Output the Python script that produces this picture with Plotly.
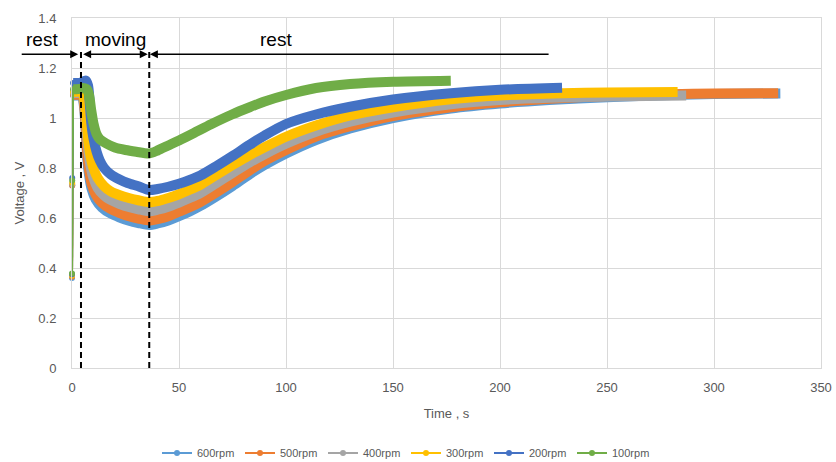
import plotly.graph_objects as go

# ---------------- data ----------------
names = ["600rpm", "500rpm", "400rpm", "300rpm", "200rpm", "100rpm"]
colors = ["#5B9BD5", "#ED7D31", "#A5A5A5", "#FFC000", "#4472C4", "#70AD47"]

t_600 = [0, 0.1, 0.5, 2, 4.5, 5.0, 5.8, 6.5, 7.2, 8.0, 9.2, 11, 14, 18, 22, 27, 31, 36,
         40, 45, 50, 55, 60, 67, 75, 83, 90, 100, 114, 130, 150, 177, 200, 223, 250, 280, 300, 331]
v_600 = [0.36, 0.73, 1.09, 1.09, 1.09, 1.08, 1.03, 0.93, 0.83, 0.77, 0.715, 0.675, 0.642, 0.618, 0.603, 0.588, 0.58, 0.572,
         0.578, 0.59, 0.607, 0.626, 0.648, 0.684, 0.728, 0.775, 0.812, 0.858, 0.912, 0.958, 1.0, 1.038, 1.058, 1.072, 1.083, 1.092, 1.096, 1.098]

t_500 = [0, 0.1, 0.5, 2, 4.5, 5.0, 5.8, 6.5, 7.2, 8.0, 9.2, 11, 14, 18, 22, 27, 31, 36,
         40, 45, 50, 55, 60, 67, 75, 83, 90, 100, 114, 130, 150, 177, 200, 223, 250, 280, 300, 330]
v_500 = [0.365, 0.73, 1.093, 1.093, 1.093, 1.09, 1.04, 0.95, 0.85, 0.79, 0.735, 0.695, 0.66, 0.636, 0.621, 0.606, 0.598, 0.59,
         0.596, 0.607, 0.625, 0.643, 0.664, 0.70, 0.744, 0.79, 0.828, 0.872, 0.926, 0.967, 1.008, 1.043, 1.063, 1.077, 1.088, 1.095, 1.098, 1.099]

t_400 = [0, 0.1, 0.5, 2, 4.5, 5.0, 6.0, 6.7, 7.5, 8.5, 10, 12, 15, 18, 22, 27, 31, 36,
         40, 45, 50, 55, 60, 67, 75, 83, 90, 100, 114, 130, 150, 177, 200, 223, 250, 287]
v_400 = [0.37, 0.735, 1.10, 1.10, 1.10, 1.10, 1.05, 0.97, 0.88, 0.815, 0.76, 0.72, 0.69, 0.672, 0.657, 0.643, 0.635, 0.627,
         0.633, 0.645, 0.662, 0.68, 0.70, 0.737, 0.78, 0.822, 0.855, 0.897, 0.945, 0.985, 1.022, 1.055, 1.072, 1.081, 1.086, 1.09]

t_300 = [0, 0.1, 0.5, 2, 4.5, 5.0, 6.0, 6.8, 7.6, 8.6, 10, 12, 15, 18, 22, 27, 31, 36,
         40, 45, 50, 55, 60, 67, 75, 83, 90, 100, 114, 130, 150, 177, 200, 229, 250, 283]
v_300 = [0.37, 0.74, 1.105, 1.105, 1.105, 1.105, 1.06, 0.99, 0.91, 0.85, 0.80, 0.76, 0.727, 0.707, 0.692, 0.679, 0.671, 0.663,
         0.668, 0.68, 0.695, 0.713, 0.733, 0.77, 0.812, 0.852, 0.883, 0.925, 0.97, 1.01, 1.043, 1.075, 1.09, 1.099, 1.102, 1.104]

t_200 = [0, 0.1, 0.5, 2, 4.5, 5.0, 6.5, 7.5, 8.3, 9.0, 10, 11.5, 13, 15, 18, 22, 26, 31, 36,
         40, 45, 50, 55, 60, 67, 75, 83, 90, 100, 114, 130, 150, 177, 200, 229]
v_200 = [0.375, 0.76, 1.14, 1.14, 1.142, 1.145, 1.15, 1.13, 1.06, 0.98, 0.92, 0.865, 0.83, 0.80, 0.775, 0.755, 0.74, 0.727, 0.712,
         0.716, 0.725, 0.737, 0.752, 0.77, 0.805, 0.848, 0.893, 0.93, 0.976, 1.014, 1.045, 1.074, 1.099, 1.113, 1.121]

t_100 = [0, 0.1, 0.5, 2, 4.5, 5.0, 7.0, 8.0, 9.0, 10, 11.5, 13, 16, 20, 25, 30, 36,
         40, 45, 50, 57, 65, 75, 83, 90, 100, 114, 130, 150, 177]
v_100 = [0.378, 0.75, 1.115, 1.115, 1.118, 1.12, 1.115, 1.09, 1.03, 0.98, 0.935, 0.915, 0.898, 0.882, 0.872, 0.865, 0.858,
         0.87, 0.89, 0.91, 0.94, 0.975, 1.015, 1.043, 1.066, 1.092, 1.12, 1.136, 1.145, 1.149]

times = [t_600, t_500, t_400, t_300, t_200, t_100]
volts = [v_600, v_500, v_400, v_300, v_200, v_100]

x_ticks = [0, 50, 100, 150, 200, 250, 300, 350]
y_ticks = [0, 0.2, 0.4, 0.6, 0.8, 1.0, 1.2, 1.4]
y_tick_text = ["0", "0.2", "0.4", "0.6", "0.8", "1", "1.2", "1.4"]

t_move_start = 4.2
t_move_end = 36.1

# ---------------- figure ----------------
fig = go.Figure()
GREY = "#595959"
FONT = "Liberation Sans"

for name, c, t, v in zip(names, colors, times, volts):
    # initial jump at t=0 (thin line with markers)
    fig.add_trace(go.Scatter(x=t[:3], y=v[:3], mode="lines+markers",
                             line=dict(color=c, width=2), marker=dict(color=c, size=6),
                             showlegend=False, hoverinfo="skip", cliponaxis=False))
    # dense measurement band
    fig.add_trace(go.Scatter(x=t[2:], y=v[2:], mode="lines",
                             line=dict(color=c, width=10, shape="spline", smoothing=0.7),
                             showlegend=False))

# legend entries
for name, c in zip(names, colors):
    fig.add_trace(go.Scatter(x=[None], y=[None], mode="lines+markers", name=name,
                             line=dict(color=c, width=2), marker=dict(color=c, size=6)))

L, R, T, B = 72, 15, 18, 94
W, H = 836, 462
pw = W - L - R
ph = H - T - B

def px2paper_x(px):
    return (px - L) / pw

def py2paper_y(py):
    return (H - B - py) / ph

# dashed lines
for tx in (t_move_start, t_move_end):
    fig.add_shape(type="line", xref="x", yref="y", x0=tx, x1=tx, y0=0, y1=1.265,
                  line=dict(color="black", width=2, dash="6px,4px"))

ya = 1.255
# arrow 1: rest (from outside to first dashed line)
fig.add_annotation(x=t_move_start - 1.3, y=ya, xref="x", yref="y", text="", showarrow=True,
                   axref="pixel", ayref="pixel", ax=-58, ay=0,
                   arrowhead=2, arrowsize=1, arrowwidth=1.6, arrowcolor="black")
# arrow 2: moving (double headed)
fig.add_annotation(x=t_move_end - 0.7, y=ya, xref="x", yref="y", text="", showarrow=True,
                   axref="x", ayref="y", ax=t_move_start + 0.3, ay=ya,
                   arrowhead=2, startarrowhead=2, arrowside="end+start",
                   arrowsize=1, startarrowsize=1, arrowwidth=1.6, arrowcolor="black")
# arrow 3: rest (from far right back to second dashed line)
fig.add_annotation(x=t_move_end + 0.3, y=ya, xref="x", yref="y", text="", showarrow=True,
                   axref="x", ayref="y", ax=223.4, ay=ya,
                   arrowhead=2, arrowsize=1, arrowwidth=1.6, arrowcolor="black")

for txt, px in (("rest", 42), ("moving", 115), ("rest", 276)):
    fig.add_annotation(x=px2paper_x(px), y=py2paper_y(40), xref="paper", yref="paper",
                       text=txt, showarrow=False, xanchor="center", yanchor="middle",
                       font=dict(family=FONT, size=19, color="black"))

fig.update_layout(
    width=W, height=H,
    margin=dict(l=L, r=R, t=T, b=B, autoexpand=False),
    paper_bgcolor="white", plot_bgcolor="white",
    font=dict(family=FONT, size=13, color=GREY),
    showlegend=True,
    legend=dict(orientation="h", xref="paper", yref="paper",
                x=px2paper_x(406), y=py2paper_y(453), xanchor="center", yanchor="middle",
                font=dict(size=11, color=GREY), itemwidth=30,
                entrywidth=38, entrywidthmode="pixels", tracegroupgap=0),
)
fig.update_xaxes(range=[0, 350], tickvals=x_ticks, showgrid=True, gridcolor="#d9d9d9",
                 zeroline=False, showline=True, linecolor="#d9d9d9", mirror=True,
                 ticks="outside", ticklen=7, tickcolor="rgba(0,0,0,0)", automargin=False,
                 title=dict(text="Time , s", font=dict(size=13, color=GREY), standoff=15))
fig.update_yaxes(range=[0, 1.4], tickvals=y_ticks, ticktext=y_tick_text, showgrid=True,
                 gridcolor="#d9d9d9", zeroline=False, showline=True, linecolor="#d9d9d9",
                 mirror=True, ticks="outside", ticklen=12, tickcolor="rgba(0,0,0,0)", automargin=False,
                 title=dict(text="Voltage , V", font=dict(size=13, color=GREY), standoff=10))

fig.write_html("out.html", config={"displayModeBar": False},
               post_script="document.body.style.margin='0';document.body.style.overflow='hidden';")
